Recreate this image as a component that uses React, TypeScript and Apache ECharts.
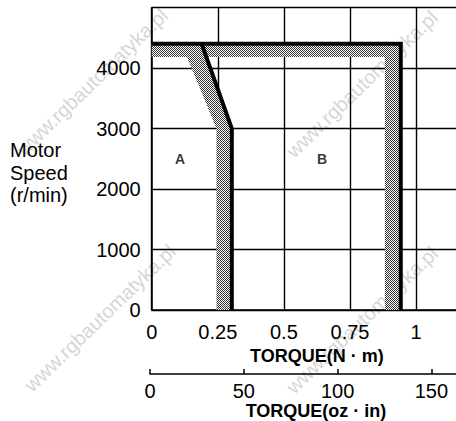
import React, { useEffect, useRef } from 'react';
import * as echarts from 'echarts';

// ---- data ----
const speedMin = 0;
const speedMax = 5000;
const speedInterval = 1000;
const torqueNmMax = 1.25;
const torqueNmInterval = 0.25;
const torqueOzMax = 177; // 1.25 N·m expressed in oz·in
const torqueOzInterval = 50;

// boundary lines [torque N·m] / [speed r/min]
const regionBTorque = [0, 0.942, 0.942];
const regionBSpeed = [4400, 4400, 0];
const regionATorque = [0.189, 0.303, 0.303];
const regionASpeed = [4400, 3000, 0];

// shaded bands inside the boundaries
const bandBTorque = [0, 0.942, 0.942, 0.882, 0.882, 0];
const bandBSpeed = [4400, 4400, 0, 0, 4180, 4180];
const bandATorque = [0.113, 0.189, 0.303, 0.303, 0.245, 0.245];
const bandASpeed = [4400, 4400, 3000, 0, 0, 3000];

const regionLabels = ['A', 'B'];
const regionLabelTorque = [0.107, 0.644];
const regionLabelSpeed = [2500, 2500];

const yTitleLines = ['Motor', 'Speed', '(r/min)'];
const xTitleNm = 'TORQUE(N · m)';
const xTitleOz = 'TORQUE(oz · in)';
const watermarkText = 'www.rgbautomatyka.pl';

// ---- layout ----
const FONT = "'Liberation Sans', Arial, Helvetica, sans-serif";
const watermarkPos = [
  [92, 82],
  [362, 84],
  [100, 318],
  [362, 320],
];

function makePattern() {
  const c = document.createElement('canvas');
  c.width = 4;
  c.height = 4;
  const ctx = c.getContext('2d');
  if (!ctx) return '#a0a0a0';
  ctx.fillStyle = '#ffffff';
  ctx.fillRect(0, 0, 4, 4);
  ctx.fillStyle = '#333333';
  const dots = [
    [0, 0], [2, 0], [1, 1], [3, 1], [0, 2], [2, 2], [1, 3], [3, 3],
  ];
  dots.forEach(([x, y]) => ctx.fillRect(x, y, 1, 1));
  return {
    image: c.toDataURL(),
    repeat: 'repeat',
    imageWidth: 4,
    imageHeight: 4,
  } as any;
}

const plainNum = (v: number) => String(v);

export default function App() {
  const ref = useRef<HTMLDivElement>(null);

  useEffect(() => {
    if (!ref.current) return;
    const chart = echarts.init(ref.current, undefined, { renderer: 'svg' });
    const pattern = makePattern();

    const polySeries = (tx: number[], sy: number[]) => ({
      type: 'custom',
      xAxisIndex: 0,
      yAxisIndex: 0,
      silent: true,
      z: 2,
      data: tx.map((t, i) => [t, sy[i]]),
      renderItem: (params: any, api: any) => {
        if (params.dataIndex !== 0) return null;
        const pts = tx.map((t, i) => api.coord([t, sy[i]]));
        return {
          type: 'polygon',
          shape: { points: pts },
          style: { fill: pattern, stroke: 'none' },
        };
      },
    });

    const lineSeries = (tx: number[], sy: number[]) => ({
      type: 'line',
      xAxisIndex: 0,
      yAxisIndex: 0,
      silent: true,
      z: 3,
      symbol: 'none',
      data: tx.map((t, i) => [t, sy[i]]),
      lineStyle: { color: '#000', width: 4, join: 'miter', cap: 'butt' },
    });

    const option: any = {
      animation: false,
      backgroundColor: '#ffffff',
      textStyle: { fontFamily: FONT },
      grid: [
        { left: 151.7, width: 330.5, top: 7.5, height: 302.5, show: false, outerBoundsMode: 'none', containLabel: false },
        { left: 150, width: 332, top: 369, height: 5, show: false, outerBoundsMode: 'none', containLabel: false },
      ],
      xAxis: [
        {
          type: 'value',
          gridIndex: 0,
          min: 0,
          max: torqueNmMax,
          interval: torqueNmInterval,
          name: xTitleNm,
          nameLocation: 'middle',
          nameGap: 29,
          nameTextStyle: { fontSize: 18, fontWeight: 'bold', color: '#000', fontFamily: FONT },
          axisLine: { show: true, lineStyle: { color: '#000', width: 1.5 } },
          axisTick: { show: false },
          axisLabel: {
            fontSize: 20, color: '#000', margin: 12, showMaxLabel: false, fontFamily: FONT,
            formatter: plainNum,
          },
          splitLine: { show: true, lineStyle: { color: '#000', width: 1.4 } },
        },
        {
          type: 'value',
          gridIndex: 1,
          min: 0,
          max: torqueOzMax,
          interval: torqueOzInterval,
          name: xTitleOz,
          nameLocation: 'middle',
          nameGap: 25,
          nameTextStyle: { fontSize: 18, fontWeight: 'bold', color: '#000', fontFamily: FONT },
          axisLine: { show: true, lineStyle: { color: '#000', width: 1.5 } },
          axisTick: { show: true, inside: true, length: 5, lineStyle: { color: '#000', width: 1.5 } },
          axisLabel: {
            fontSize: 20, color: '#000', margin: 7, showMaxLabel: false, fontFamily: FONT,
            formatter: plainNum,
          },
          splitLine: { show: false },
        },
      ],
      yAxis: [
        {
          type: 'value',
          gridIndex: 0,
          min: speedMin,
          max: speedMax,
          interval: speedInterval,
          axisLine: { show: true, lineStyle: { color: '#000', width: 1.5 } },
          axisTick: { show: false },
          axisLabel: {
            fontSize: 20,
            color: '#000',
            margin: 11,
            showMaxLabel: false,
            padding: [14, 0, 0, 0],
            fontFamily: FONT,
            formatter: plainNum,
          },
          splitLine: { show: true, lineStyle: { color: '#000', width: 1.4 } },
        },
        { type: 'value', gridIndex: 1, show: false, min: 0, max: 1 },
      ],
      graphic: [
        ...watermarkPos.map(([x, y]) => ({
          type: 'text',
          x,
          y,
          rotation: (44 * Math.PI) / 180,
          z: -10,
          silent: true,
          style: {
            text: watermarkText,
            fill: '#d6d6d6',
            font: `20px ${FONT}`,
            align: 'center',
            verticalAlign: 'middle',
          },
        })),
        {
          type: 'text',
          x: 10,
          y: 139,
          silent: true,
          style: {
            text: yTitleLines.join('\n'),
            fill: '#000',
            font: `20px ${FONT}`,
            lineHeight: 22.5,
            align: 'left',
            verticalAlign: 'top',
          },
        },
      ],
      series: [
        polySeries(bandBTorque, bandBSpeed),
        polySeries(bandATorque, bandASpeed),
        lineSeries(regionBTorque, regionBSpeed),
        lineSeries(regionATorque, regionASpeed),
        {
          type: 'scatter',
          xAxisIndex: 0,
          yAxisIndex: 0,
          silent: true,
          symbolSize: 0,
          z: 4,
          data: regionLabels.map((_, i) => [regionLabelTorque[i], regionLabelSpeed[i]]),
          label: {
            show: true,
            position: 'inside',
            formatter: (p: any) => regionLabels[p.dataIndex],
            fontSize: 14,
            fontWeight: 'bold',
            color: '#000',
            fontFamily: FONT,
          },
        },
      ],
    };

    chart.setOption(option);
    return () => chart.dispose();
  }, []);

  return (
    <div
      ref={ref}
      style={{ position: 'absolute', left: 0, top: 0, width: 456, height: 421, background: '#fff' }}
    />
  );
}
